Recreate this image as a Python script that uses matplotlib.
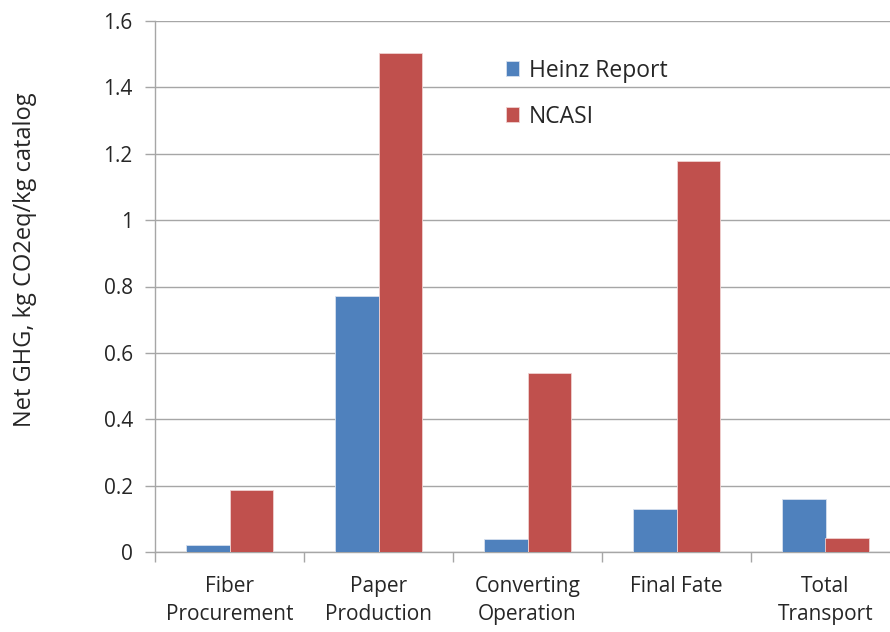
import numpy as np
import matplotlib.pyplot as plt
from matplotlib.ticker import FixedLocator

categories = ["Fiber\nProcurement", "Paper\nProduction", "Converting\nOperation", "Final Fate", "Total\nTransport"]
heinz = [0.02, 0.77, 0.04, 0.13, 0.16]
ncasi = [0.187, 1.505, 0.54, 1.178, 0.042]
yticks = [0, 0.2, 0.4, 0.6, 0.8, 1.0, 1.2, 1.4, 1.6]
ytick_labels = ['0', '0.2', '0.4', '0.6', '0.8', '1', '1.2', '1.4', '1.6']

plt.rcParams['font.family'] = ['Open Sans', 'DejaVu Sans']

fig = plt.figure(figsize=(8.9, 6.32), dpi=100)
ax = fig.add_axes([155 / 890, 80 / 632, 745 / 890, 531 / 632])

x = np.arange(len(categories))
w = 0.29
ax.bar(x - w / 2, heinz, w, color='#4F81BD', edgecolor='#D6E0EE', linewidth=0.6, label='Heinz Report', zorder=3)
ax.bar(x + w / 2, ncasi, w, color='#C0504D', edgecolor='#EFD2D1', linewidth=0.6, label='NCASI', zorder=3)

ax.set_xlim(-0.5, 4.5)
ax.set_ylim(0, 1.6)
ax.set_yticks(yticks)
ax.set_yticklabels(ytick_labels)
ax.grid(axis='y', color='#A6A6A6', linewidth=1.0, zorder=0)

ax.set_xticks(x)
ax.set_xticklabels(categories, fontsize=15, color='#262626', linespacing=1.45)
ax.xaxis.set_minor_locator(FixedLocator(np.arange(-0.5, 5, 1.0)))
ax.tick_params(axis='x', which='major', length=0, pad=17)
ax.tick_params(axis='x', which='minor', length=7, color='#A6A6A6', width=1)
ax.tick_params(axis='y', length=7, color='#A6A6A6', width=1, labelsize=15, labelcolor='#262626', pad=9)

for s in ['top', 'right']:
    ax.spines[s].set_visible(False)
ax.spines['left'].set_color('#A6A6A6')
ax.spines['bottom'].set_color('#A6A6A6')
ax.spines['left'].set_linewidth(1)
ax.spines['bottom'].set_linewidth(1)

ax.set_ylabel('Net GHG, kg CO2eq/kg catalog', fontsize=17, color='#262626')
ax.yaxis.set_label_coords(-0.158, 0.55)

ax.legend(loc='upper left', bbox_to_anchor=(0.443, 0.968), frameon=False, fontsize=16.5,
          handlelength=0.6, handleheight=0.6, handletextpad=0.4, labelspacing=0.97,
          labelcolor='#262626')

fig.savefig('out.png', dpi=100)
